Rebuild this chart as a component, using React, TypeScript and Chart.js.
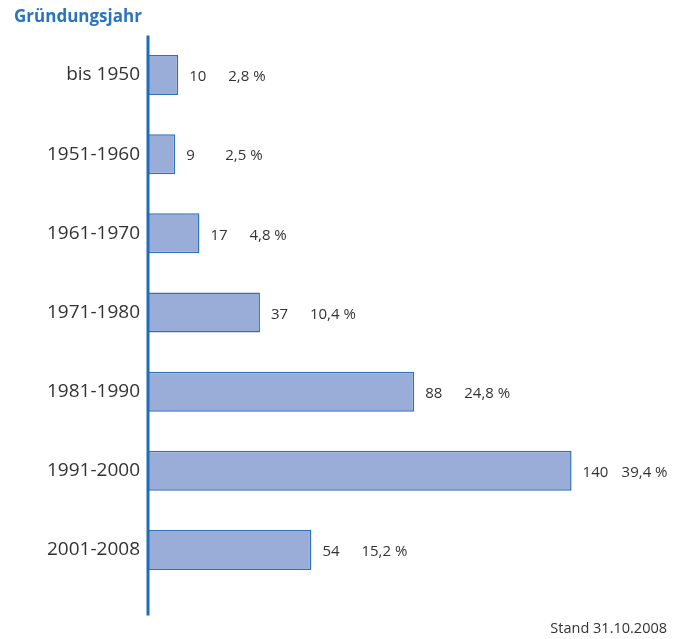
import React, { useEffect, useRef } from "react";
import { Chart, registerables } from "chart.js";

Chart.register(...registerables);

const categories = ["bis 1950", "1951-1960", "1961-1970", "1971-1980", "1981-1990", "1991-2000", "2001-2008"];
const counts = [10, 9, 17, 37, 88, 140, 54];
const percents = ["2,8 %", "2,5 %", "4,8 %", "10,4 %", "24,8 %", "39,4 %", "15,2 %"];
const titleText = "Gründungsjahr";
const footerText = "Stand 31.10.2008";

const FONT = "'Open Sans', 'Noto Sans', sans-serif";
const BLUE = "#1f6db8";
const TEXT = "#333333";

const decorPlugin = {
  id: "decor",
  afterDatasetsDraw(chart: any) {
    const { ctx, chartArea } = chart;
    const meta = chart.getDatasetMeta(0);
    ctx.save();
    // value labels
    ctx.fillStyle = TEXT;
    ctx.font = `15px ${FONT}`;
    ctx.textBaseline = "middle";
    ctx.textAlign = "left";
    meta.data.forEach((bar: any, i: number) => {
      const end = bar.x;
      ctx.fillText(String(counts[i]), end + 11, bar.y + 2);
      ctx.fillText(percents[i], end + 50, bar.y + 2);
    });
    // axis line
    ctx.strokeStyle = BLUE;
    ctx.lineWidth = 3;
    ctx.beginPath();
    ctx.moveTo(chartArea.left, chartArea.top);
    ctx.lineTo(chartArea.left, chartArea.bottom + 26);
    ctx.stroke();
    // title
    ctx.fillStyle = "#2a73c0";
    ctx.font = `bold 17px ${FONT}`;
    ctx.textBaseline = "alphabetic";
    ctx.fillText(titleText, 14, 22);
    // footer
    ctx.fillStyle = TEXT;
    ctx.font = `14.5px ${FONT}`;
    ctx.textAlign = "right";
    ctx.fillText(footerText, 667, 633);
    ctx.restore();
  },
};

export default function App() {
  const ref = useRef<HTMLCanvasElement | null>(null);
  useEffect(() => {
    if (!ref.current) return;
    const chart = new Chart(ref.current, {
      type: "bar",
      data: {
        labels: categories,
        datasets: [
          {
            data: counts,
            backgroundColor: "#9aadd8",
            borderColor: "#2e72b8",
            borderWidth: 1.5,
            borderSkipped: false,
            barPercentage: 0.505,
            categoryPercentage: 1,
          },
        ],
      },
      options: {
        indexAxis: "y",
        animation: false,
        responsive: true,
        maintainAspectRatio: false,
        layout: { padding: { top: 35.5, bottom: 49.5, left: 0, right: 3.5 } },
        plugins: { legend: { display: false }, tooltip: { enabled: false }, title: { display: false } },
        scales: {
          x: { display: false, min: 0, max: 175 },
          y: {
            grid: { display: false, drawTicks: false },
            border: { display: false },
            ticks: {
              color: TEXT,
              font: { family: FONT, size: 19 },
              padding: 8,
            },
            afterFit(scale: any) {
              scale.width = 148;
            },
          },
        },
      },
      plugins: [decorPlugin],
    });
    return () => chart.destroy();
  }, []);
  return (
    <div style={{ position: "absolute", left: 0, top: 0, width: 681, height: 639, background: "#fff" }}>
      <canvas ref={ref} />
    </div>
  );
}
